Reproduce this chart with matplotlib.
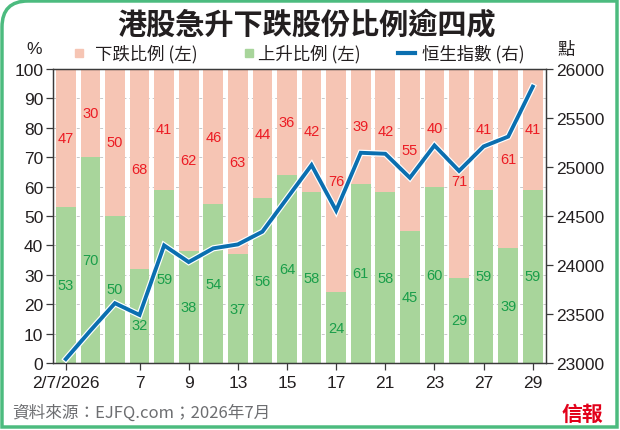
import matplotlib
matplotlib.use('Agg')
import matplotlib.pyplot as plt
import matplotlib.patheffects as pe
from matplotlib.path import Path
from matplotlib.patches import PathPatch, Rectangle
from matplotlib.lines import Line2D
from matplotlib.transforms import ScaledTranslation
import numpy as np

plt.rcParams['font.family'] = ['Liberation Sans', 'Noto Sans CJK TC', 'DejaVu Sans']
cjk = ['Noto Sans CJK TC', 'DejaVu Sans']

# data (July 2026 trading days)
days = [2, 3, 6, 7, 8, 9, 10, 13, 14, 15, 16, 17, 20, 21, 22, 23, 24, 27, 28, 29]
rise_pct = [53, 70, 50, 32, 59, 38, 54, 37, 56, 64, 58, 24, 61, 58, 45, 60, 29, 59, 39, 59]
fall_pct = [47, 30, 50, 68, 41, 62, 46, 63, 44, 36, 42, 76, 39, 42, 55, 40, 71, 41, 61, 41]
hsi = [23040, 23330, 23610, 23490, 24200, 24030, 24170, 24210, 24340, 24680,
       25020, 24555, 25145, 25135, 24890, 25220, 24960, 25210, 25310, 25820]
tick_days = [2, 7, 9, 13, 15, 17, 21, 23, 27, 29]

pink = '#f6c5b4'
green = '#a8d59b'
blue = '#0b6fb0'
red_txt = '#ec1c24'
green_txt = '#1a9e4a'
dark = '#231f20'

x = np.arange(len(days))

fig = plt.figure(figsize=(6.2, 4.31), dpi=100)
ax = fig.add_axes([0.0855, 0.1555, 0.7952, 0.6821])
ax2 = ax.twinx()

ax.bar(x, rise_pct, width=0.8, color=green, zorder=2)
ax.bar(x, fall_pct, width=0.8, bottom=rise_pct, color=pink, zorder=2)

ax.set_xlim(-0.52, len(days) - 0.46)
ax.set_ylim(0, 100)
ax.set_yticks(range(0, 101, 10))
ax.yaxis.grid(True, color='#c8c8c8', linestyle=(0, (3, 3)), linewidth=0.7, zorder=0)
ax.set_axisbelow(True)

tick_idx = [days.index(d) for d in tick_days]
tick_lab = ['2/7/2026'] + [str(d) for d in tick_days[1:]]
ax.set_xticks(tick_idx)
ax.set_xticklabels(tick_lab)
lab0 = ax.get_xticklabels()[0]
lab0.set_transform(lab0.get_transform() + ScaledTranslation(0.11, 0, fig.dpi_scale_trans))

ax2.plot(x, hsi, color=blue, linewidth=2.8, solid_joinstyle='miter', zorder=4,
         path_effects=[pe.Stroke(linewidth=4.5, foreground='white'), pe.Normal()])
ax2.set_ylim(23000, 26000)
ax2.set_yticks(range(23000, 26001, 500))

# value labels, kept above the index line; a few nudged off the line (in % points)
nudge_rise = {3: -3, 4: -1}
nudge_fall = {16: -2.5}
for i in range(len(x)):
    ax2.text(x[i], rise_pct[i] / 2 + nudge_rise.get(i, 0), str(rise_pct[i]),
             transform=ax.transData, ha='center', va='center',
             fontsize=10.5, color=green_txt, zorder=6)
    ax2.text(x[i], rise_pct[i] + fall_pct[i] / 2 + nudge_fall.get(i, 0), str(fall_pct[i]),
             transform=ax.transData, ha='center', va='center',
             fontsize=10.5, color=red_txt, zorder=6)

for a in (ax, ax2):
    for s in a.spines.values():
        s.set_color('#3a3a3a')
        s.set_linewidth(0.9)
    a.tick_params(direction='out', length=5, width=0.9, color='#3a3a3a',
                  labelsize=12.5, labelcolor=dark, pad=2)
ax.tick_params(axis='x', pad=4)

# title
fig.text(0.495, 0.943, '港股急升下跌股份比例逾四成', ha='center', va='center',
         fontsize=21, fontweight='bold', color=dark, family=cjk)

# legend drawn by hand
leg_y = 1 - 54 / 431
fig.add_artist(Rectangle((75 / 620, leg_y - 4 / 431), 8 / 620, 8 / 431,
                         transform=fig.transFigure, color=pink))
fig.text(95 / 620, leg_y, '下跌比例 (左)', ha='left', va='center', fontsize=12.5,
         color=dark, family=cjk)
fig.add_artist(Rectangle((245 / 620, leg_y - 4 / 431), 8 / 620, 8 / 431,
                         transform=fig.transFigure, color=green))
fig.text(258 / 620, leg_y, '上升比例 (左)', ha='left', va='center', fontsize=12.5,
         color=dark, family=cjk)
fig.add_artist(Line2D([398 / 620, 415 / 620], [leg_y, leg_y], transform=fig.transFigure,
                      color=blue, linewidth=3))
fig.text(422 / 620, leg_y, '恒生指數 (右)', ha='left', va='center', fontsize=12.5,
         color=dark, family=cjk)

fig.text(34 / 620, 1 - 50 / 431, '%', ha='center', va='center', fontsize=12.5, color=dark)
fig.text(566 / 620, 1 - 50 / 431, '點', ha='center', va='center', fontsize=12.5,
         color=dark, family=cjk)

# footer
fig.text(12 / 620, 1 - 413 / 431, '資料來源：EJFQ.com；2026年7月', ha='left', va='center',
         fontsize=12, color='#6d6e71', family=cjk)
fig.text(603 / 620, 1 - 414 / 431, '信報', ha='right', va='center', fontsize=15,
         fontweight='bold', color='#e2001a', family=cjk)

# green frame, rounded top-left corner
W, H = 620.0, 431.0
l, r, t, b, rad = 2 / W, 617 / W, 1 - 2 / H, 1 - 428 / H, 26.0
verts = [(l, b), (l, t - rad / H), (l, t), (l + rad / W, t), (r, t), (r, b), (l, b)]
codes = [Path.MOVETO, Path.LINETO, Path.CURVE3, Path.CURVE3, Path.LINETO, Path.LINETO, Path.CLOSEPOLY]
fig.add_artist(PathPatch(Path(verts, codes), transform=fig.transFigure, facecolor='none',
                         edgecolor='#4cbb7f', linewidth=2.5))

fig.savefig('out.png', dpi=100)
